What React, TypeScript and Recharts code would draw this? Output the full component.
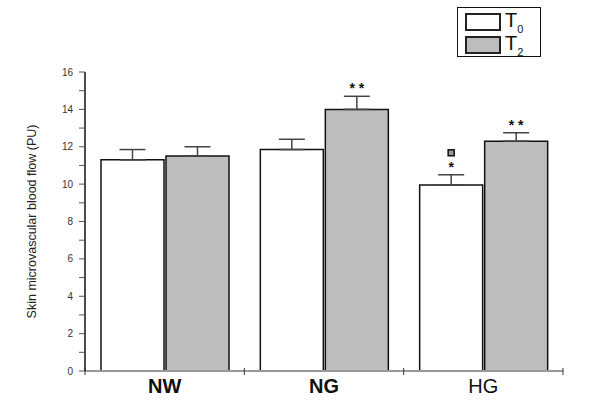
import React from 'react';
import {
  BarChart,
  Bar,
  XAxis,
  YAxis,
  ErrorBar,
  Legend,
  LabelList
} from 'recharts';

const GROUPS = ['NW', 'NG', 'HG'];
const T0_MEAN = [11.3, 11.85, 9.95];
const T2_MEAN = [11.5, 14.0, 12.3];
const T0_SEM = [0.55, 0.55, 0.55];
const T2_SEM = [0.5, 0.7, 0.45];
// significance marks drawn above the error bars
const T0_STARS = [0, 0, 1];
const T0_SQUARE = [false, false, true];
const T2_STARS = [0, 2, 2];
const Y_TICKS = [0, 1, 2, 3, 4, 5, 6, 7, 8, 9, 10, 11, 12, 13, 14, 15, 16];
const BOLD_GROUPS = ['NW', 'NG'];

const data = GROUPS.map((g, i) => ({
  group: g,
  t0: T0_MEAN[i],
  t2: T2_MEAN[i],
  t0Err: [0, T0_SEM[i]],
  t2Err: [0, T2_SEM[i]]
}));

const FONT = '"Liberation Sans", Arial, sans-serif';

const YTick = (props: any) => {
  const { x, y, payload } = props;
  if (payload.value % 2 !== 0) return null;
  return (
    <text x={x - 2} y={y} dy={3.5} textAnchor="end" fontSize={10} fill="#333" fontFamily={FONT}>
      {payload.value}
    </text>
  );
};

const XTick = (props: any) => {
  const { x, y, payload, index } = props;
  const off = payload.offset || 79.5;
  const bold = BOLD_GROUPS.includes(payload.value);
  return (
    <g>
      <line x1={x - off} x2={x - off} y1={y - 11} y2={y - 4} stroke="#333" strokeWidth={1} />
      {index === GROUPS.length - 1 && (
        <line x1={x + off} x2={x + off} y1={y - 11} y2={y - 4} stroke="#333" strokeWidth={1} />
      )}
      <text
        x={x}
        y={y}
        dy={14}
        textAnchor="middle"
        fontSize={20}
        fontWeight={bold ? 'bold' : 'normal'}
        fill="#111"
        fontFamily={FONT}
      >
        {payload.value}
      </text>
    </g>
  );
};

const makeMarks = (sem: number[], stars: number[], square: boolean[] | null) => (props: any) => {
  const { x, y, width, height, index, value } = props;
  const n = stars[index];
  const sq = square ? square[index] : false;
  if (!n && !sq) return null;
  const ppu = height / value;
  const top = y - sem[index] * ppu;
  const cx = x + width / 2;
  return (
    <g>
      {n > 0 && (
        <text
          x={cx}
          y={top - 3}
          textAnchor="middle"
          fontSize={14}
          fontWeight="bold"
          fill="#111"
          fontFamily={FONT}
        >
          {n === 2 ? '* *' : '*'}
        </text>
      )}
      {sq && (
        <rect x={cx - 3} y={top - 25} width={6} height={6} fill="#999" stroke="#111" strokeWidth={1.5} />
      )}
    </g>
  );
};

const LegendBox = () => (
  <div
    style={{
      width: 82,
      height: 48,
      border: '1px solid #111',
      background: '#fff',
      fontFamily: FONT,
      position: 'relative'
    }}
  >
    {[
      { fill: '#fff', sub: '0', top: 5 },
      { fill: '#bdbdbd', sub: '2', top: 28 }
    ].map((r) => (
      <div key={r.sub}>
        <div
          style={{
            position: 'absolute',
            left: 7,
            top: r.top,
            width: 32,
            height: 14,
            border: '2px solid #222',
            background: r.fill
          }}
        />
        <div style={{ position: 'absolute', left: 47, top: r.top - 4, fontSize: 20, color: '#111', lineHeight: '22px' }}>
          T<span style={{ fontSize: 11, position: 'relative', top: 6 }}>{r.sub}</span>
        </div>
      </div>
    ))}
  </div>
);

export default function App() {
  return (
    <div style={{ position: 'absolute', left: 0, top: 0, width: 600, height: 400, background: '#fff' }}>
      <BarChart
        width={600}
        height={400}
        data={data}
        margin={{ top: 72, right: 37, bottom: 0, left: 0 }}
        barSize={63}
        barGap={2}
      >
        <XAxis
          dataKey="group"
          height={29}
          axisLine={{ stroke: '#999', strokeWidth: 2 }}
          tickLine={false}
          tick={<XTick />}
          interval={0}
        />
        <YAxis
          width={85}
          domain={[0, 16]}
          ticks={Y_TICKS}
          interval={0}
          tickSize={6}
          tickMargin={4}
          axisLine={{ stroke: '#111', strokeWidth: 1.5 }}
          tickLine={{ stroke: '#555' }}
          tick={<YTick />}
          label={{
            value: 'Skin microvascular blood flow (PU)',
            angle: -90,
            position: 'insideLeft',
            offset: 32,
            style: { textAnchor: 'middle', fontSize: 12.5, fill: '#222', fontFamily: FONT }
          }}
        />
        <Legend
          layout="vertical"
          align="center"
          verticalAlign="middle"
          content={<LegendBox />}
          wrapperStyle={{ position: 'absolute', left: 457, top: 7, width: 84 }}
        />
        <Bar dataKey="t0" fill="#ffffff" stroke="#111" strokeWidth={1.5} isAnimationActive={false}>
          <ErrorBar dataKey="t0Err" width={13} stroke="#444" strokeWidth={1.5} direction="y" />
          <LabelList dataKey="t0" content={makeMarks(T0_SEM, T0_STARS, T0_SQUARE)} />
        </Bar>
        <Bar dataKey="t2" fill="#bdbdbd" stroke="#111" strokeWidth={1.5} isAnimationActive={false}>
          <ErrorBar dataKey="t2Err" width={13} stroke="#444" strokeWidth={1.5} direction="y" />
          <LabelList dataKey="t2" content={makeMarks(T2_SEM, T2_STARS, null)} />
        </Bar>
      </BarChart>
    </div>
  );
}
